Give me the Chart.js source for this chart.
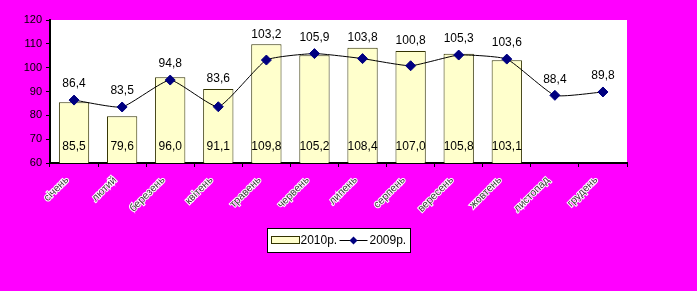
<!DOCTYPE html>
<html>
<head>
<meta charset="utf-8">
<script src="https://cdn.jsdelivr.net/npm/chart.js@4/dist/chart.umd.min.js"></script>
<style>
html,body{margin:0;padding:0;background:#FF00FF;}
#wrap{width:697px;height:291px;}
</style>
</head>
<body>
<div id="wrap"><canvas id="c" width="697" height="291"></canvas></div>
<script>
const months = ['січень','лютий','березень','квітень','травень','червень','липень','серпень','вересень','жовтень','листопад','грудень'];
const values2010 = [85.5, 79.6, 96.0, 91.1, 109.8, 105.2, 108.4, 107.0, 105.8, 103.1, null, null];
const values2009 = [86.4, 83.5, 94.8, 83.6, 103.2, 105.9, 103.8, 100.8, 105.3, 103.6, 88.4, 89.8];
const seriesNames = ['2010р.', '2009р.'];
const yTicks = [60, 70, 80, 90, 100, 110, 120];

const fmt = v => v.toFixed(1).replace('.', ',');
const FONT = '"Liberation Sans", Arial, sans-serif';

const plotBg = {
  id: 'plotBg',
  beforeDraw(chart) {
    const {ctx, chartArea: a} = chart;
    ctx.save();
    ctx.fillStyle = '#FFFFFF';
    ctx.fillRect(a.left, a.top, a.right - a.left, a.bottom - a.top);
    ctx.restore();
  }
};

const labelsPlugin = {
  id: 'valueLabels',
  afterDatasetsDraw(chart) {
    const {ctx, chartArea: a} = chart;
    const barMeta = chart.getDatasetMeta(0);
    const lineMeta = chart.getDatasetMeta(1);
    ctx.save();
    ctx.font = '12px ' + FONT;
    ctx.fillStyle = '#000';
    ctx.textAlign = 'center';
    ctx.textBaseline = 'middle';
    barMeta.data.forEach((el, i) => {
      const v = values2010[i];
      if (v == null) return;
      ctx.fillText(fmt(v), el.x, a.bottom - 16);
    });
    lineMeta.data.forEach((el, i) => {
      const v = values2009[i];
      if (v == null) return;
      let y = el.y - 16;
      const bar = barMeta.data[i];
      if (values2010[i] != null) y = Math.min(y, bar.y - 10);
      ctx.fillText(fmt(v), el.x, y);
    });
    ctx.restore();
  }
};

const legendPlugin = {
  id: 'boxLegend',
  afterDraw(chart) {
    const {ctx, chartArea: a} = chart;
    const w = 143, h = 24;
    const cx = (a.left + a.right) / 2;
    const x = Math.round(cx - w / 2) + 0.5, y = 228.5;
    ctx.save();
    ctx.fillStyle = '#fff';
    ctx.strokeStyle = '#000';
    ctx.lineWidth = 1;
    ctx.fillRect(x, y, w, h);
    ctx.strokeRect(x, y, w, h);
    ctx.fillStyle = '#FFFFCC';
    ctx.strokeStyle = '#333300';
    ctx.fillRect(x + 4, y + 8, 28, 7);
    ctx.strokeRect(x + 4, y + 8, 28, 7);
    ctx.font = '12px ' + FONT;
    ctx.fillStyle = '#000';
    ctx.textBaseline = 'middle';
    ctx.textAlign = 'left';
    ctx.fillText(seriesNames[0], x + 33, y + 12);
    const lx = x + 72, ly = y + 12;
    ctx.strokeStyle = '#000';
    ctx.beginPath();
    ctx.moveTo(lx, ly);
    ctx.lineTo(lx + 28, ly);
    ctx.stroke();
    ctx.fillStyle = '#000080';
    ctx.beginPath();
    ctx.moveTo(lx + 14, ly - 4);
    ctx.lineTo(lx + 18, ly);
    ctx.lineTo(lx + 14, ly + 4);
    ctx.lineTo(lx + 10, ly);
    ctx.closePath();
    ctx.fill();
    ctx.fillStyle = '#000';
    ctx.fillText(seriesNames[1], lx + 30, ly);
    ctx.restore();
  }
};

new Chart(document.getElementById('c'), {
  type: 'bar',
  data: {
    labels: months,
    datasets: [
      {
        type: 'bar',
        label: seriesNames[0],
        data: values2010,
        backgroundColor: '#FFFFCC',
        borderColor: '#333300',
        borderWidth: 1,
        barPercentage: 0.63,
        categoryPercentage: 1,
        order: 2
      },
      {
        type: 'line',
        label: seriesNames[1],
        data: values2009,
        borderColor: '#000',
        borderWidth: 1,
        tension: 0.15,
        pointStyle: 'rectRot',
        pointRadius: 5,
        pointBackgroundColor: '#000080',
        pointBorderColor: '#000080',
        pointBorderWidth: 1,
        order: 1
      }
    ]
  },
  options: {
    responsive: false,
    animation: false,
    devicePixelRatio: 1,
    layout: {padding: {left: 0, right: 70, top: 20, bottom: 0}},
    plugins: {legend: {display: false}, tooltip: {enabled: false}},
    scales: {
      x: {
        grid: {display: true, drawOnChartArea: false, offset: true, color: '#000', tickLength: 4},
        border: {display: true, color: '#000', width: 2},
        ticks: {
          minRotation: 45, maxRotation: 45, autoSkip: false,
          font: {family: FONT, size: 10.5},
          color: '#3a3a3a',
          textStrokeColor: '#ffffff',
          textStrokeWidth: 2,
          padding: 7,
          labelOffset: -7
        },
        afterFit(s) { s.height = 128; }
      },
      y: {
        min: 60, max: 120,
        afterBuildTicks(s) { s.ticks = yTicks.map(v => ({value: v})); },
        grid: {display: true, drawOnChartArea: false, color: '#000', tickLength: 4},
        border: {display: true, color: '#000', width: 2},
        ticks: {font: {family: FONT, size: 11}, color: '#000', padding: 4},
        afterFit(s) { s.width = 50; }
      }
    }
  },
  plugins: [plotBg, labelsPlugin, legendPlugin]
});
</script>
</body>
</html>
